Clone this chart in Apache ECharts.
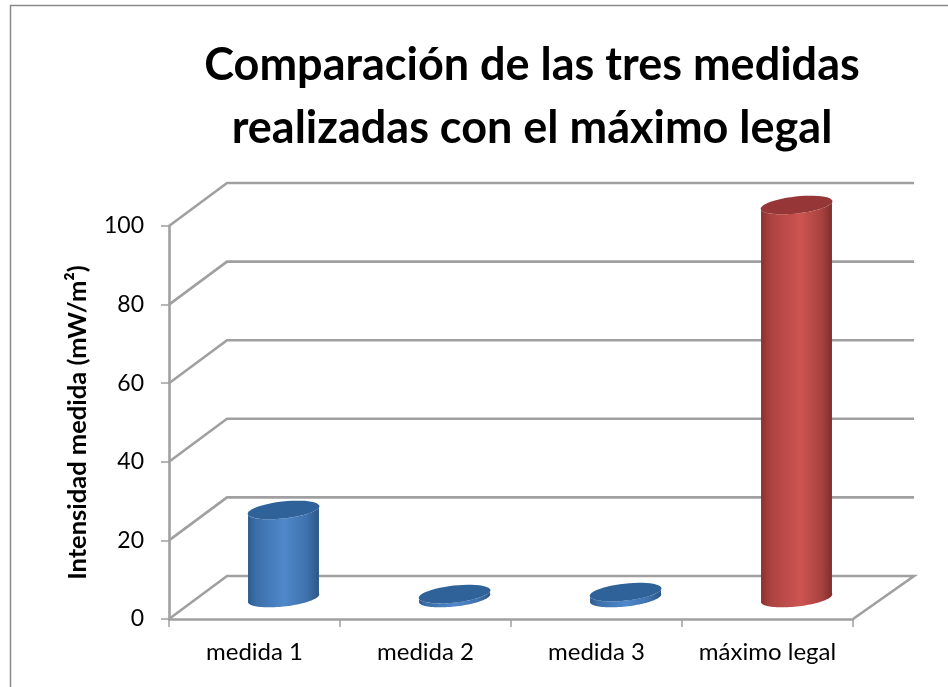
<!DOCTYPE html>
<html><head><meta charset="utf-8">
<style>html,body{margin:0;padding:0;background:#fff}#c{width:948px;height:687px}</style>
<script src="https://cdn.jsdelivr.net/npm/echarts@6/dist/echarts.min.js"></script>
</head><body><div id="c"></div>
<script>
const categories = ['medida 1','medida 2','medida 3','máximo legal'];
const blueValues = [22.4, 1, 1.5, null];
const redValues = [null, null, null, 100];
const gridValues = [0,20,40,60,80,100];
const titleText = 'Comparación de las tres medidas\nrealizadas con el máximo legal';
const yAxisName = 'Intensidad medida (mW/m²)';

const FONT = 'Lato, Carlito, Calibri, sans-serif';
const GRAY = '#a0a0a0';
// oblique projection of the depth axis
const BACK = {x:58, y:-43};
const MID = {x:29, y:-21};
const RIGHT_EXTRA = 3;
const RX = 36, RY = 8.5, TILT = -0.11;

function ellipsePoint(cx, cy, t){
  const ex = RX*Math.cos(t), ey = RY*Math.sin(t);
  return [cx + ex*Math.cos(TILT) - ey*Math.sin(TILT), cy + ex*Math.sin(TILT) + ey*Math.cos(TILT)];
}
function linear(stops){ return {type:'linear',x:0,y:0,x2:1,y2:0,colorStops:stops}; }
const palettes = {
  blue:{top:'#2f6299', stops:[[0,'#2d5a8e'],[0.1,'#3a6ea8'],[0.5,'#4f88cb'],[0.82,'#3f72ae'],[1,'#2b5685']]},
  red:{top:'#963636', stops:[[0,'#8a3230'],[0.14,'#ad4341'],[0.55,'#cd5451'],[0.85,'#a84240'],[1,'#7f2d2b']]}
};
function cylinder(palette){
  return function(params, api){
    const v = api.value(1);
    if (v == null || isNaN(v)) return;
    const base = api.coord([api.value(0), 0]);
    const top = api.coord([api.value(0), v]);
    const bx = base[0]+MID.x, by = base[1]+MID.y, ty = top[1]+MID.y;
    const pts = [];
    const N = 48;
    for (let i=0;i<=N;i++){ pts.push(ellipsePoint(bx, by, -0.11 + (Math.PI)*i/N)); }
    for (let i=0;i<=N;i++){ pts.push(ellipsePoint(bx, ty, Math.PI-0.11 + (Math.PI)*(-i/N))); }
    const cap = [];
    for (let i=0;i<N;i++){ cap.push(ellipsePoint(bx, ty, 2*Math.PI*i/N)); }
    const p = palettes[palette];
    return {type:'group',children:[
      {type:'polygon',shape:{points:pts},style:{fill:linear(p.stops.map(s=>({offset:s[0],color:s[1]})))}},
      {type:'polygon',shape:{points:cap},style:{fill:p.top}}
    ]};
  };
}
function wallLine(params, api){
  const v = api.value(0);
  const a = api.coord([0, v]);
  const size = api.size([1,0]);
  const x0 = a[0] - size[0]/2;
  const x1 = x0 + size[0]*categories.length;
  const pts = [[x0,a[1]],[x0+BACK.x,a[1]+BACK.y],[x1+BACK.x+RIGHT_EXTRA,a[1]+BACK.y]];
  if (v === 0) pts.push([x1,a[1]]);
  return {type:'polyline',shape:{points:pts},style:{stroke:GRAY,lineWidth:2.6,fill:null}};
}
const chart = echarts.init(document.getElementById('c'),null,{renderer:'canvas'});
chart.setOption({
  animation:false,
  backgroundColor:'#fff',
  graphic:[{type:'rect',silent:true,z:-10,shape:{x:10.5,y:5.5,width:1000,height:800},style:{fill:'#fff',stroke:'#8a8a8a',lineWidth:1.5}}],
  title:{text:titleText,left:527,top:29,textAlign:'center',
    textStyle:{fontFamily:FONT,fontWeight:'bold',fontSize:45,lineHeight:63,color:'#000'}},
  grid:{left:169,right:95,top:226,bottom:68},
  xAxis:{type:'category',data:categories,boundaryGap:true,
    axisLine:{lineStyle:{color:GRAY,width:2.6}},
    axisTick:{show:true,interval:0,alignWithLabel:false,length:8,lineStyle:{color:GRAY,width:1.5}},
    axisLabel:{interval:0,hideOverlap:false,fontFamily:FONT,fontSize:24,color:'#000',margin:21}},
  yAxis:{type:'value',min:0,max:100,interval:20,
    name:yAxisName,nameLocation:'middle',nameGap:78,nameRotate:90,
    nameTextStyle:{fontFamily:FONT,fontWeight:'bold',fontSize:25.5,color:'#000'},
    axisLine:{show:true,lineStyle:{color:GRAY,width:2.6}},
    axisTick:{show:true,length:8,lineStyle:{color:GRAY,width:1.5}},
    axisLabel:{fontFamily:FONT,fontSize:23,color:'#000',margin:25},
    splitLine:{show:false}},
  series:[
    {type:'custom',name:'grid',coordinateSystem:'cartesian2d',z:1,silent:true,
      data:gridValues.map(v=>[v]),encode:{y:0},renderItem:wallLine},
    {type:'custom',name:'medidas',z:2,silent:true,
      data:blueValues.map((v,i)=>[i,v]),encode:{x:0,y:1},renderItem:cylinder('blue')},
    {type:'custom',name:'máximo',z:2,silent:true,
      data:redValues.map((v,i)=>[i,v]),encode:{x:0,y:1},renderItem:cylinder('red')}
  ]
});
</script></body></html>
